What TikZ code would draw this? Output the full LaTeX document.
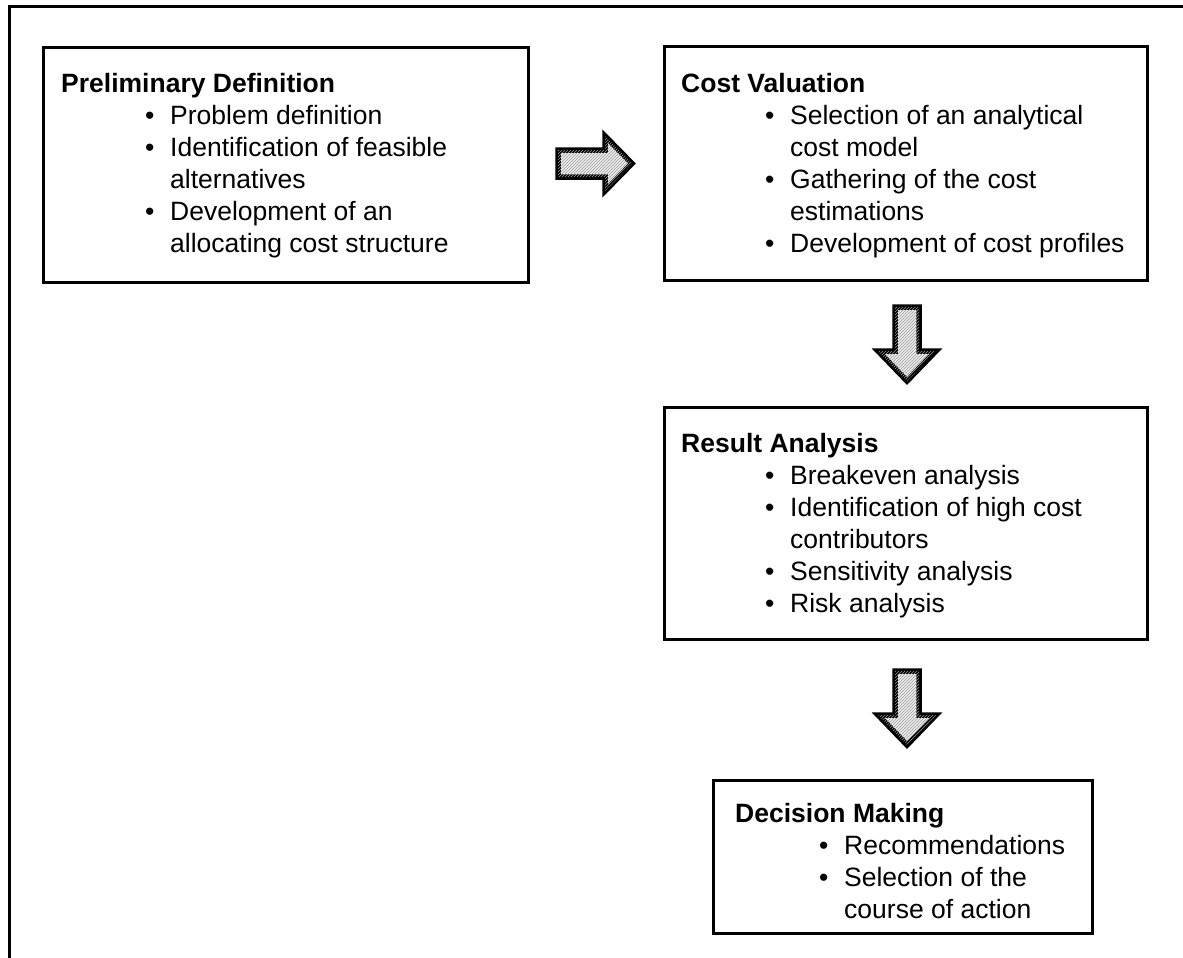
\documentclass[tikz,border=0pt]{standalone}
\usepackage{fontspec}
\setmainfont{Liberation Sans}
\usetikzlibrary{patterns}
\newcommand\bitem[1]{\hspace*{84pt}\makebox[25pt][l]{\textbullet}#1}
\newcommand\citem[1]{\hspace*{109pt}#1}
\begin{document}
\begin{tikzpicture}[x=1pt,y=-1pt,
  frame/.style={line width=3pt},
  stage/.style={draw, line width=3pt, inner sep=0pt},
  txt/.style={anchor=base west, inner sep=0pt, font=\fontsize{26.5}{32}\selectfont},
  blockarrow/.style={draw, line width=5.5pt, miter limit=10, line join=miter,
    fill=gray!12, postaction={pattern=north east lines, pattern color=gray!80}}]
\useasboundingbox (0,0) rectangle (1183,958);
% outer frame (top and left)
\draw[frame] (9,958) -- (9,7) -- (1183,7);
% boxes
\draw[stage] (43,48) rectangle (528,282);
\draw[stage] (664,47) rectangle (1147,280);
\draw[stage] (664,407) rectangle (1147,639);
\draw[stage] (713,780) rectangle (1092,933);
% texts
\node[txt] (t1) at (61,92.5) {\begin{tabular}[t]{@{}l@{}}
\textbf{Preliminary Definition}\\
\bitem{Problem definition}\\
\bitem{Identification of feasible}\\
\citem{alternatives}\\
\bitem{Development of an}\\
\citem{allocating cost structure}
\end{tabular}};
\node[txt] (t2) at (681,92.5) {\begin{tabular}[t]{@{}l@{}}
\textbf{Cost Valuation}\\
\bitem{Selection of an analytical}\\
\citem{cost model}\\
\bitem{Gathering of the cost}\\
\citem{estimations}\\
\bitem{Development of cost profiles}
\end{tabular}};
\node[txt] (t3) at (681,452.5) {\begin{tabular}[t]{@{}l@{}}
\textbf{Result Analysis}\\
\bitem{Breakeven analysis}\\
\bitem{Identification of high cost}\\
\citem{contributors}\\
\bitem{Sensitivity analysis}\\
\bitem{Risk analysis}
\end{tabular}};
\node[txt] (t4) at (735,822.5) {\begin{tabular}[t]{@{}l@{}}
\textbf{Decision Making}\\
\bitem{Recommendations}\\
\bitem{Selection of the}\\
\citem{course of action}
\end{tabular}};
% block arrows
\draw[blockarrow] (558,150) -- (605,150) -- (605,136) -- (632,163.5) -- (605,191) -- (605,177) -- (558,177) -- cycle;
\draw[blockarrow] (895,307) -- (919,307) -- (919,351) -- (936,351) -- (907,381) -- (878,351) -- (895,351) -- cycle;
\draw[blockarrow] (895,671) -- (919,671) -- (919,715) -- (936,715) -- (907,745) -- (878,715) -- (895,715) -- cycle;
\end{tikzpicture}
\end{document}
